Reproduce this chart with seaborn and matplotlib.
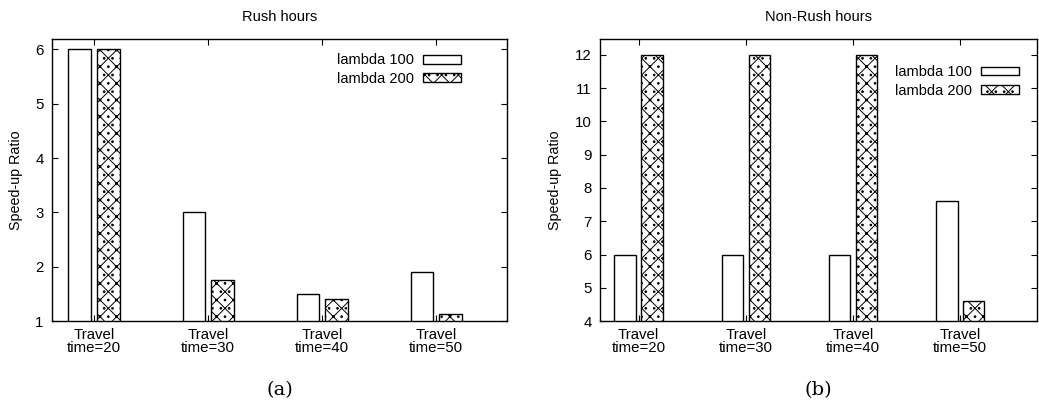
import matplotlib
matplotlib.use("Agg")
import matplotlib.pyplot as plt
import seaborn as sns
import pandas as pd
from matplotlib.patches import Patch

categories = ["Travel\ntime=20", "Travel\ntime=30", "Travel\ntime=40", "Travel\ntime=50"]
series_names = ["lambda 100", "lambda 200"]
rush_l100 = [6.0, 3.0, 1.5, 1.9]
rush_l200 = [6.0, 1.75, 1.4, 1.13]
nonrush_l100 = [6.0, 6.0, 6.0, 7.6]
nonrush_l200 = [12.0, 12.0, 12.0, 4.6]
titles = ["Rush hours", "Non-Rush hours"]
captions = ["(a)", "(b)"]
ylims = [(1, 6.19), (4, 12.48)]
yticks = [list(range(1, 7)), list(range(4, 13))]

sns.set_theme(style="white")
plt.rcParams["font.family"] = ["Liberation Sans", "DejaVu Sans"]
plt.rcParams["hatch.linewidth"] = 0.7
for key in ["text.color", "axes.labelcolor", "xtick.color", "ytick.color"]:
    plt.rcParams[key] = "black"

def make_df(a, b):
    rows = []
    for c, v in zip(categories, a):
        rows.append({"cat": c, "series": series_names[0], "val": v})
    for c, v in zip(categories, b):
        rows.append({"cat": c, "series": series_names[1], "val": v})
    return pd.DataFrame(rows)

dfs = [make_df(rush_l100, rush_l200), make_df(nonrush_l100, nonrush_l200)]

fig = plt.figure(figsize=(10.39, 4.08), dpi=100)
positions = [[0.050, 0.2132, 0.438, 0.6912], [0.5775, 0.2132, 0.421, 0.6912]]
xlims = [(-0.37, 3.62), (-0.36, 3.72)]
legend_anchor = [(0.911, 0.970), (0.971, 0.928)]
HATCH = "xx.."

for i in range(2):
    ax = fig.add_axes(positions[i])
    sns.barplot(data=dfs[i], x="cat", y="val", hue="series", hue_order=series_names,
                order=categories, palette={series_names[0]: "white", series_names[1]: "white"},
                width=0.5, gap=0.2, edgecolor="black", linewidth=1.0, ax=ax,
                legend=False, errorbar=None)
    for j, p in enumerate(ax.patches):
        if j >= len(categories):
            p.set_hatch(HATCH)
    ax.set_ylim(*ylims[i])
    ax.set_xlim(*xlims[i])
    ax.set_yticks(yticks[i])
    ax.set_xticks(range(len(categories)))
    ax.set_xticklabels(categories, fontsize=10.8, linespacing=0.95)
    ax.tick_params(axis="both", direction="in", length=4, width=0.8, labelsize=10.8,
                   top=True, right=True, bottom=True, left=True, pad=6,
                   colors="black")
    ax.tick_params(axis="x", pad=5)
    ax.set_xlabel("")
    ax.set_ylabel("Speed-up Ratio", fontsize=10.3, labelpad=9, color="black")
    ax.set_title(titles[i], fontsize=10.5, pad=13, color="black")
    for s in ax.spines.values():
        s.set_visible(True)
        s.set_color("black")
        s.set_linewidth(1.0)
    handles = [Patch(facecolor="white", edgecolor="black", linewidth=1.0),
               Patch(facecolor="white", edgecolor="black", linewidth=1.0, hatch=HATCH)]
    leg = ax.legend(handles, series_names, loc="upper right", frameon=False, markerfirst=False,
                    fontsize=10.5, handlelength=2.6, handleheight=0.55, handletextpad=0.6,
                    labelspacing=0.3, bbox_to_anchor=legend_anchor[i], borderaxespad=0.0)
    for t in leg.get_texts():
        t.set_color("black")
    ax.text(0.5, -0.245, captions[i], transform=ax.transAxes, ha="center", va="center",
            fontsize=14, family=["DejaVu Serif"], color="black")

fig.savefig("out.png", dpi=100)
